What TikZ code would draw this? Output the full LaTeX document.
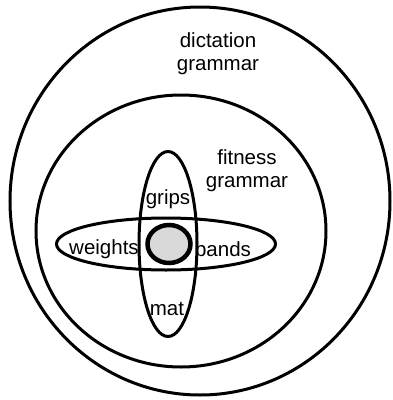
\documentclass[tikz,border=0pt]{standalone}
\usepackage{fontspec}
\setmainfont{Liberation Sans}
\begin{document}
\begin{tikzpicture}[x=1pt,y=-1pt,
  ring/.style={draw=black,line width=3pt},
  lbl/.style={font=\fontsize{20.5}{23}\selectfont,align=center,inner sep=0pt}]
\useasboundingbox (0,0) rectangle (393,400);
\draw[ring] (200,201) ellipse [x radius=190, y radius=194];
\draw[ring] (181,231) ellipse [x radius=145, y radius=136];
\draw[ring] (168,244) ellipse [x radius=29, y radius=92.5];
\draw[ring] (166,244) ellipse [x radius=109.5, y radius=26];
\draw[ring,line width=4.5pt,fill=black!15] (169,244) ellipse [x radius=21.5, y radius=19];
\node[lbl] (dict) at (218,54) {dictation\\grammar};
\node[lbl] (fit) at (247,171) {fitness\\grammar};
\node[lbl] (grips) at (168,199) {grips};
\node[lbl] (weights) at (104,249) {weights};
\node[lbl] (bands) at (223,249) {bands};
\node[lbl] (mat) at (167,309) {mat};
\end{tikzpicture}
\end{document}
